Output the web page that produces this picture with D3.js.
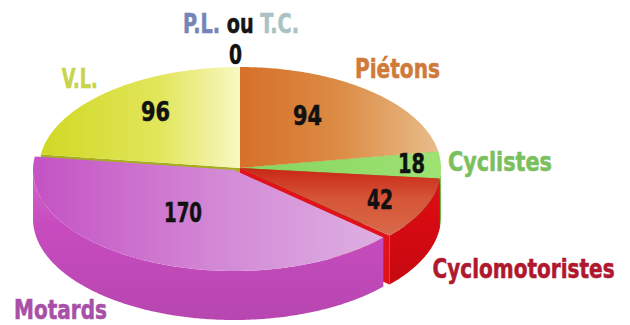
<!DOCTYPE html>
<html>
<head>
<meta charset="utf-8">
<script src="https://cdn.jsdelivr.net/npm/d3@7"></script>
<style>
  html, body { margin: 0; padding: 0; background: #ffffff; }
  svg { display: block; }
  text { font-family: 'DejaVu Sans', sans-serif; font-stretch: condensed; font-weight: bold; }
</style>
</head>
<body>
<svg id="chart" width="630" height="325"></svg>
<script>
// ---- data ----
const categories = ["P.L. ou T.C.", "Piétons", "Cyclistes", "Cyclomotoristes", "Motards", "V.L."];
const values = [0, 94, 18, 42, 170, 96];

// ---- style / layout ----
const W = 630, H = 325;
const cx = 240, cy = 168, rx = 201, ry = 101, depth = 49;
const explode = [[0,0],[0,0],[0,0],[0,0],[-6,2],[0,0]];
const topStops = [
  [["#7585b5",0],["#7585b5",1]],
  [["#d6702a",0],["#dc8c44",0.5],["#e8bc8c",1]],
  [["#86d45e",0],["#9ee274",1]],
  [["#c92616",0],["#d65538",0.45],["#d86a4a",1]],
  [["#c452c4",0],["#d286d4",0.5],["#ddb0e2",1]],
  [["#d0d824",0],["#e2e65c",0.6],["#f8f8c2",1]]
];
const gradAxis = ["x","x","x","y","x","x"];
const sideColor = ["#6070a0","#c86a28","#74c04c","#d80a12","#c84cc0","#c8cc30"];
const sideTop   = ["#6070a0","#d07a38","#84cc5c","#dc1018","#d468cc","#d4d840"];
const faceColor = ["#6070a0","#b8621e","#6cae44","#e0121a","#b640ae","#a8ac20"];
const labelColor = ["#000","#d07a3a","#7cc05e","#b0182e","#a850a8","#c8d44c"];
const nameNudge = [[1,-34],[-15,-13],[7,6],[9,69],[-135.5,57],[-46,-4]];
const nameWidth = [116, 85, 104, 182, 93, 36];
const nameAnchor = ["middle","start","start","start","start","start"];
const numberK = [[0,1.158],[0.52,0.694],[0.854,1.66],[0.7625,0.755],[0.604,0.458],[0.639,0.743]];
const numberDx = [-4.5,0,0,0,0,0];
const numberDy = [3,0,0,0,0,0];
const numberWidth = [13, 29, 27, 26, 38, 29];
const fontSize = 24, scaleY = 1.14;

const svg = d3.select("#chart");
const defs = svg.append("defs");

const arcs = d3.pie().sort(null).value(d => d)(values);

function P(a, i, k = 1, dz = 0) {
  const [ox, oy] = explode[i];
  return [cx + ox + rx * k * Math.sin(a), cy + oy - ry * k * Math.cos(a) + dz];
}
function arcPts(a0, a1, i, dz) {
  const n = Math.max(2, Math.ceil((a1 - a0) / 0.01));
  const pts = [];
  for (let j = 0; j <= n; j++) pts.push(P(a0 + (a1 - a0) * j / n, i, 1, dz));
  return pts;
}
const line = pts => "M" + pts.map(p => p[0].toFixed(2) + "," + p[1].toFixed(2)).join("L") + "Z";

// gradients
arcs.forEach((d, i) => {
  const g = defs.append("linearGradient").attr("id", "top" + i).attr("gradientUnits", "userSpaceOnUse");
  if (gradAxis[i] === "x") {
    const xs = arcPts(d.startAngle, d.endAngle, i, 0).map(p => p[0]).concat([cx + explode[i][0]]);
    g.attr("x1", d3.min(xs)).attr("x2", d3.max(xs)).attr("y1", 0).attr("y2", 0);
  } else {
    const ys = arcPts(d.startAngle, d.endAngle, i, 0).map(p => p[1]).concat([cy + explode[i][1]]);
    g.attr("x1", 0).attr("x2", 0).attr("y1", d3.min(ys)).attr("y2", d3.max(ys));
  }
  topStops[i].forEach(([c, o]) => g.append("stop").attr("offset", o).attr("stop-color", c));
  const s = defs.append("linearGradient").attr("id", "side" + i).attr("x1", 0).attr("x2", 0).attr("y1", 0).attr("y2", 1);
  s.append("stop").attr("offset", 0).attr("stop-color", sideTop[i]);
  s.append("stop").attr("offset", 0.35).attr("stop-color", sideColor[i]);
  s.append("stop").attr("offset", 1).attr("stop-color", d3.color(sideColor[i]).darker(0.25));
});

const wallG = svg.append("g");
const topG = svg.append("g");

const isExploded = i => explode[i][0] !== 0 || explode[i][1] !== 0;
const order = arcs.map((d, i) => i)
  .filter(i => arcs[i].endAngle > arcs[i].startAngle)
  .sort((a, b) => {
    if (isExploded(a) !== isExploded(b)) return isExploded(a) ? 1 : -1;
    const ma = (arcs[a].startAngle + arcs[a].endAngle) / 2, mb = (arcs[b].startAngle + arcs[b].endAngle) / 2;
    return -Math.cos(ma) + Math.cos(mb);
  });

order.forEach(i => {
  const d = arcs[i];
  const c0 = P(0, i, 0, 0), c1 = P(0, i, 0, depth);
  [[d.startAngle, Math.sin(d.startAngle) < 0], [d.endAngle, Math.sin(d.endAngle) > 0]].forEach(([a, vis]) => {
    if (!vis) return;
    wallG.append("path")
      .attr("d", line([c0, P(a, i, 1, 0), P(a, i, 1, depth), c1]))
      .attr("fill", faceColor[i]);
  });
  const s = Math.max(d.startAngle, Math.PI / 2), e = Math.min(d.endAngle, 3 * Math.PI / 2);
  if (s < e) {
    const pts = arcPts(s, e, i, 0).concat(arcPts(s, e, i, depth).reverse());
    wallG.append("path").attr("d", line(pts)).attr("fill", "url(#side" + i + ")");
  }
});

order.forEach(i => {
  const d = arcs[i];
  const pts = [P(0, i, 0, 0)].concat(arcPts(d.startAngle, d.endAngle, i, 0));
  topG.append("path").attr("d", line(pts)).attr("fill", "url(#top" + i + ")");
});

// fit a text to a target width with a condensed, slightly tall look
function fit(t, x, y, targetW) {
  t.attr("x", 0).attr("y", 0);
  const natural = t.node().getComputedTextLength();
  const sx = targetW / natural;
  t.attr("transform", `translate(${x},${y}) scale(${sx},${scaleY})`);
}

const labG = svg.append("g");
// number labels
arcs.forEach((d, i) => {
  const mid = (d.startAngle + d.endAngle) / 2;
  const x = cx + explode[i][0] + rx * numberK[i][0] * Math.sin(mid) + numberDx[i];
  const y = cy + explode[i][1] - ry * numberK[i][1] * Math.cos(mid) + numberDy[i];
  const t = labG.append("text")
    .attr("text-anchor", "middle")
    .attr("font-size", fontSize)
    .attr("fill", "#111")
    .attr("stroke", "#111").attr("stroke-width", 0.5)
    .text(values[i]);
  fit(t, x, y + fontSize * 0.365 * scaleY, numberWidth[i]);
});

// category labels
arcs.forEach((d, i) => {
  const mid = (d.startAngle + d.endAngle) / 2;
  const rim = P(mid, i, 1, 0);
  const t = labG.append("text")
    .attr("text-anchor", nameAnchor[i])
    .attr("font-size", fontSize)
    .attr("fill", labelColor[i])
    .attr("stroke-width", 0.5);
  if (i === 0) {
    const parts = categories[0].split(" ");
    t.append("tspan").attr("fill", "#7585b5").attr("stroke", "#7585b5").text(parts[0] + " ");
    t.append("tspan").attr("fill", "#151515").attr("stroke", "#151515").text(parts[1] + " ");
    t.append("tspan").attr("fill", "#a9c2c4").attr("stroke", "#a9c2c4").text(parts[2]);
  } else {
    t.attr("stroke", labelColor[i]).text(categories[i]);
  }
  fit(t, rim[0] + nameNudge[i][0], rim[1] + nameNudge[i][1], nameWidth[i]);
});
</script>
</body>
</html>
